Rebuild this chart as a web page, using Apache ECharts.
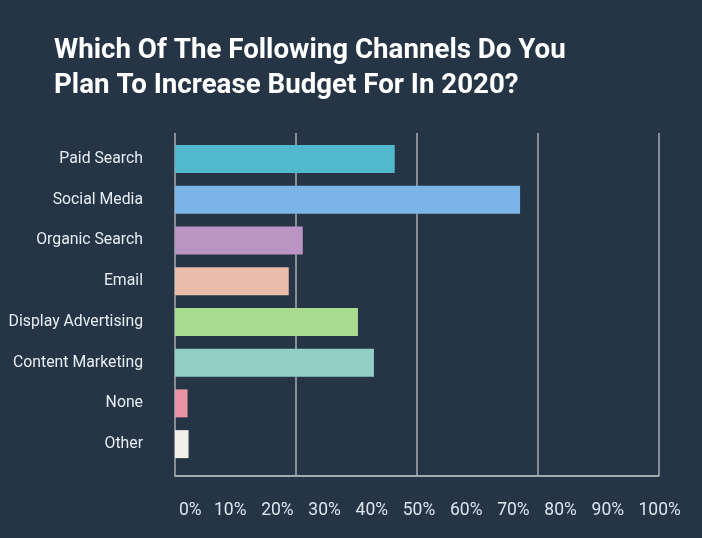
<!DOCTYPE html>
<html>
<head>
<meta charset="utf-8">
<script src="https://cdn.jsdelivr.net/npm/echarts@6/dist/echarts.min.js"></script>
<style>
html,body{margin:0;padding:0;background:#253546;}
#c{width:702px;height:538px;}
</style>
</head>
<body>
<div id="c"></div>
<script>
const categories = ['Paid Search', 'Social Media', 'Organic Search', 'Email', 'Display Advertising', 'Content Marketing', 'None', 'Other'];
const values = [45.4, 71.3, 26.4, 23.5, 37.8, 41.1, 2.6, 2.8];
const barColors = ['#52B8CE', '#7BB4E7', '#BA94C3', '#EBBCAA', '#A9DC8E', '#92CFC5', '#EA94A3', '#F0EFE8'];
const tickLabels = ['0%', '10%', '20%', '30%', '40%', '50%', '60%', '70%', '80%', '90%', '100%'];
const titleText = 'Which Of The Following Channels Do You\nPlan To Increase Budget For In 2020?';

const tickStyle = { color: '#DCE5EE', fontSize: 17.5, fontFamily: 'Roboto' };

const chart = echarts.init(document.getElementById('c'));
chart.setOption({
  backgroundColor: '#253546',
  animation: false,
  title: {
    text: titleText,
    left: 49, top: 29,
    textStyle: { color: '#ffffff', fontSize: 27.7, fontWeight: 'bold', lineHeight: 34.5, fontFamily: 'Roboto' }
  },
  grid: [
    { left: 175, right: 43, top: 138.5, height: 326 },
    { left: 175, right: 43.5, top: 133, height: 343 },
    { left: 183, right: 47, top: 133, height: 343 }
  ],
  xAxis: [
    { type: 'value', gridIndex: 0, min: 0, max: 100, show: false },
    { type: 'value', gridIndex: 1, min: 0, max: 100, interval: 25,
      axisLine: { show: true, lineStyle: { color: '#A3AAB1', width: 2 } },
      axisTick: { show: false }, axisLabel: { show: false },
      splitLine: { show: true, lineStyle: { color: '#858E97', width: 2 } } },
    { type: 'value', gridIndex: 2, min: 0, max: 100, interval: 10,
      axisLine: { show: false }, axisTick: { show: false }, splitLine: { show: false },
      axisLabel: Object.assign({ margin: 26,
        formatter: v => {
          const t = tickLabels[Math.round(v / 10)];
          if (v === 0) return '{a|' + t + '}';
          if (v === 100) return '{b|' + t + '}';
          return t;
        },
        rich: {
          a: Object.assign({ padding: [0, 0, 0, 14.6] }, tickStyle),
          b: Object.assign({ padding: [0, 0, 0, 9.4] }, tickStyle)
        } }, tickStyle) }
  ],
  yAxis: [
    { type: 'category', gridIndex: 0, data: categories, inverse: true,
      axisLine: { show: false }, axisTick: { show: false },
      axisLabel: { margin: 32, color: '#E6EDF3', fontSize: 15.8, fontFamily: 'Roboto', padding: [4, 0, 0, 0] } },
    { type: 'value', gridIndex: 1, show: false, min: 0, max: 1 },
    { type: 'value', gridIndex: 2, show: false, min: 0, max: 1 }
  ],
  series: [
    { type: 'bar', xAxisIndex: 0, yAxisIndex: 0, barWidth: 28,
      data: values.map((v, i) => ({ value: v, itemStyle: { color: barColors[i] } })) }
  ]
});
</script>
</body>
</html>
